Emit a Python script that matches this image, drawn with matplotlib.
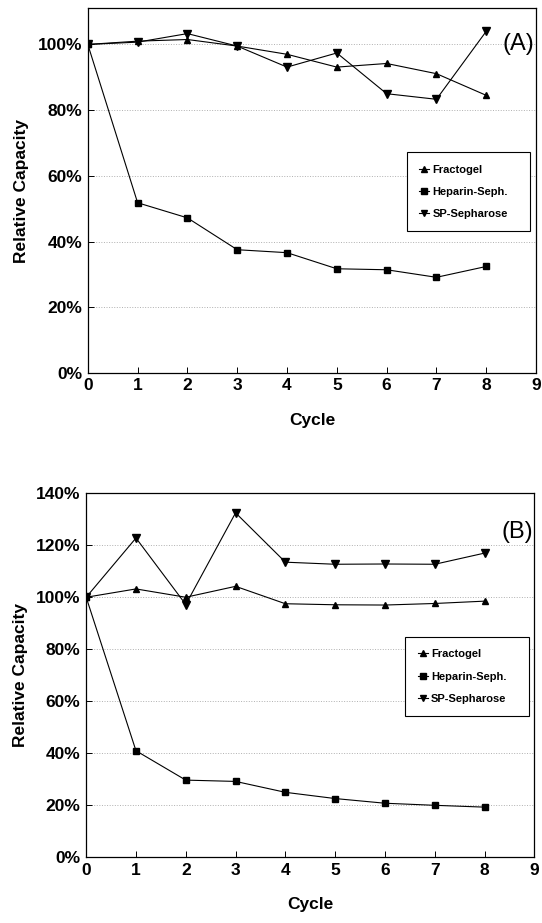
import numpy as np
import matplotlib.pyplot as plt
from matplotlib.ticker import PercentFormatter

plt.rcParams['font.family'] = ['Liberation Sans', 'DejaVu Sans']

cycles = [0, 1, 2, 3, 4, 5, 6, 7, 8]
labels = ['Fractogel', 'Heparin-Seph.', 'SP-Sepharose']

# panel (A)
frac_a    = [100, 101.0, 101.5, 99.5, 97.0, 93.1, 94.2, 91.1, 84.5]
heparin_a = [100, 51.8, 47.2, 37.5, 36.6, 31.7, 31.4, 29.1, 32.4]
sp_a      = [100, 100.7, 103.3, 99.5, 93.1, 97.4, 85.0, 83.3, 104.0]

# panel (B)
frac_b    = [100, 103.2, 100.0, 104.2, 97.5, 97.1, 97.0, 97.6, 98.5]
heparin_b = [100, 40.9, 29.6, 29.1, 24.9, 22.5, 20.7, 19.9, 19.2]
sp_b      = [100, 122.8, 97.2, 132.5, 113.5, 112.7, 112.8, 112.7, 117.0]

fig = plt.figure(figsize=(5.42, 9.23), dpi=100)
ax_a = fig.add_axes([0.162, 0.596, 0.827, 0.395])
ax_b = fig.add_axes([0.159, 0.0715, 0.827, 0.394])

panels = [
    (ax_a, [frac_a, heparin_a, sp_a], 111, 20, '(A)', 100),
    (ax_b, [frac_b, heparin_b, sp_b], 140, 20, '(B)', 125),
]
markers = ['^', 's', 'v']
msizes = [5, 4.3, 5.5]

for ax, series, ytop, ystep, tag, tag_y in panels:
    for vals, m, ms, lab in zip(series, markers, msizes, labels):
        ax.plot(cycles, vals, color='black', lw=0.8, marker=m, ms=ms,
                label=lab)
    ax.set_xlim(0, 9)
    ax.set_ylim(0, ytop)
    ax.set_xticks(range(0, 10))
    ax.set_yticks(np.arange(0, ytop + 1, ystep))
    ax.yaxis.set_major_formatter(PercentFormatter(decimals=0))
    ax.yaxis.grid(True, linestyle=':', color='#b0b0b0', lw=0.7)
    ax.set_axisbelow(True)
    ax.tick_params(direction='in', length=4, width=0.7, labelsize=12.5, pad=4)
    for t in ax.get_xticklabels() + ax.get_yticklabels():
        t.set_fontweight('bold')
    for s in ax.spines.values():
        s.set_linewidth(0.9)
    ax.set_xlabel('Cycle', fontsize=12.5, fontweight='bold', labelpad=14)
    ax.set_ylabel('Relative Capacity', fontsize=12.5, fontweight='bold',
                  labelpad=6)
    ax.text(8.65, tag_y, tag, fontsize=17, ha='center', va='center')
    leg = ax.legend(loc='upper left', bbox_to_anchor=(0.70, 0.38, 0.30, 0.24),
                    mode='expand', fancybox=False, framealpha=1,
                    edgecolor='black', prop={'weight': 'bold', 'size': 8},
                    handlelength=0.9, handletextpad=0.3, labelspacing=1.1,
                    borderpad=1.1, markerscale=0.9)
    leg.get_frame().set_linewidth(0.8)

fig.savefig('out.png', dpi=100)
